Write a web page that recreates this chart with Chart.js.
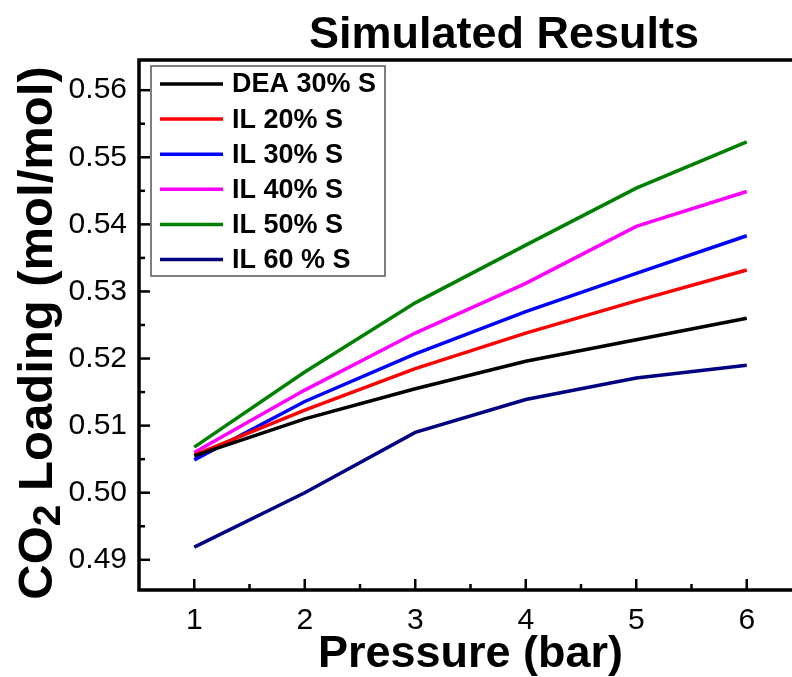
<!DOCTYPE html>
<html>
<head>
<meta charset="utf-8">
<title>Simulated Results</title>
<script src="https://cdn.jsdelivr.net/npm/chart.js@4/dist/chart.umd.min.js"></script>
<style>
  html, body { margin: 0; padding: 0; background: #fff; overflow: hidden; }
  canvas { display: block; }
</style>
</head>
<body>
<canvas id="chart" width="812" height="677" style="width:812px;height:677px"></canvas>
<script>
// Pressure points (bar)
const pressures = [1, 2, 3, 4, 5, 6];

// CO2 loading (mol/mol) for each solvent
const dea30 = [0.5055, 0.5110, 0.5155, 0.5196, 0.5228, 0.5260];
const il20  = [0.5056, 0.5123, 0.5185, 0.5238, 0.5286, 0.5332];
const il30  = [0.5049, 0.5136, 0.5207, 0.5270, 0.5327, 0.5383];
const il40  = [0.5060, 0.5153, 0.5238, 0.5312, 0.5397, 0.5449];
const il50  = [0.5068, 0.5180, 0.5283, 0.5369, 0.5454, 0.5523];
const il60  = [0.4919, 0.5000, 0.5090, 0.5139, 0.5171, 0.5190];

const seriesNames = ['DEA 30% S', 'IL 20% S', 'IL 30% S', 'IL 40% S', 'IL 50% S', 'IL 60 % S'];
const seriesValues = [dea30, il20, il30, il40, il50, il60];
const seriesColors = ['#000000', '#ff0000', '#0000ff', '#ff00ff', '#008000', '#000080'];

// Axis tick labels
const yTicks = [0.49, 0.50, 0.51, 0.52, 0.53, 0.54, 0.55, 0.56];
const xTicks = [1, 2, 3, 4, 5, 6];

const FONT = '"Liberation Sans", Arial, Helvetica, sans-serif';

const datasets = seriesNames.map((name, i) => ({
  label: name,
  data: pressures.map((p, j) => ({ x: p, y: seriesValues[i][j] })),
  borderColor: seriesColors[i],
  backgroundColor: seriesColors[i],
  borderWidth: 3.5,
  pointRadius: 0,
  pointHoverRadius: 0,
  tension: 0,
  fill: false
}));

// Frame, inward major/minor ticks, titles and legend box
const decorations = {
  id: 'decorations',
  afterDatasetsDraw(chart) {
    const { ctx, chartArea: a, scales: { x, y } } = chart;
    ctx.save();
    ctx.strokeStyle = '#000';
    ctx.lineCap = 'butt';

    const seg = (x1, y1, x2, y2) => { ctx.beginPath(); ctx.moveTo(x1, y1); ctx.lineTo(x2, y2); ctx.stroke(); };

    // major ticks pointing into the plot
    ctx.lineWidth = 2.5;
    yTicks.forEach(v => { const py = y.getPixelForValue(v); seg(a.left, py, a.left + 11, py); });
    xTicks.forEach(v => { const px = x.getPixelForValue(v); seg(px, a.bottom, px, a.bottom - 11); });
    // minor ticks halfway between majors
    for (let v = yTicks[0] - 0.005; v <= yTicks[yTicks.length - 1] + 0.0051; v += 0.01) {
      if (v > y.min && v < y.max) { const py = y.getPixelForValue(v); seg(a.left, py, a.left + 6, py); }
    }
    for (let v = xTicks[0] - 0.5; v <= xTicks[xTicks.length - 1] + 0.5; v += 1) {
      if (v > x.min && v < x.max) { const px = x.getPixelForValue(v); seg(px, a.bottom, px, a.bottom - 6); }
    }

    // plot frame
    ctx.lineWidth = 3.5;
    ctx.strokeRect(a.left, a.top, a.right - a.left, a.bottom - a.top);

    // legend box
    const lx = 151, ly = 66, lw = 234, lh = 210;
    ctx.fillStyle = '#fff';
    ctx.fillRect(lx, ly, lw, lh);
    ctx.lineWidth = 1.5;
    ctx.strokeStyle = '#555';
    ctx.strokeRect(lx, ly, lw, lh);
    ctx.font = 'bold 27px ' + FONT;
    ctx.textBaseline = 'middle';
    ctx.textAlign = 'left';
    chart.data.datasets.forEach((ds, i) => {
      const ry = 84 + i * 35.1;
      ctx.strokeStyle = ds.borderColor;
      ctx.lineWidth = 3.5;
      seg(160, ry, 223, ry);
      ctx.fillStyle = '#000';
      ctx.fillText(ds.label, 232, ry + 1);
    });

    // chart title
    ctx.fillStyle = '#000';
    ctx.font = 'bold 45px ' + FONT;
    ctx.textAlign = 'center';
    ctx.textBaseline = 'alphabetic';
    ctx.fillText('Simulated Results', 504, 48);

    // x axis title
    ctx.fillText('Pressure (bar)', (a.left + a.right) / 2, 667);

    // y axis title with subscript
    const big = 'bold 49px ' + FONT, small = 'bold 39px ' + FONT;
    ctx.font = big; const w1 = ctx.measureText('CO').width;
    ctx.font = small; const w2 = ctx.measureText('2').width;
    ctx.font = big; const w3 = ctx.measureText(' Loading (mol/mol)').width;
    const total = w1 + w2 + w3;
    ctx.translate(52, 333);
    ctx.rotate(-Math.PI / 2);
    ctx.textAlign = 'left';
    let cx = -total / 2;
    ctx.font = big; ctx.fillText('CO', cx, 0); cx += w1;
    ctx.font = small; ctx.fillText('2', cx, 8); cx += w2;
    ctx.font = big; ctx.fillText(' Loading (mol/mol)', cx, 0);
    ctx.restore();
  }
};

new Chart(document.getElementById('chart'), {
  type: 'line',
  data: { datasets },
  options: {
    responsive: false,
    animation: false,
    events: [],
    layout: { padding: { left: 0, top: 60, right: 10, bottom: 0 } },
    plugins: { legend: { display: false }, title: { display: false }, tooltip: { enabled: false } },
    scales: {
      x: {
        type: 'linear',
        min: 0.5,
        max: 6.5,
        grid: { display: false, drawTicks: false },
        border: { display: false },
        afterBuildTicks: s => { s.ticks = xTicks.map(v => ({ value: v })); },
        afterFit: s => { s.height = 87; },
        ticks: {
          padding: 13,
          color: '#000',
          font: { family: FONT, size: 30 },
          callback: v => String(v)
        }
      },
      y: {
        type: 'linear',
        min: 0.4855,
        max: 0.5645,
        grid: { display: false, drawTicks: false },
        border: { display: false },
        afterBuildTicks: s => { s.ticks = yTicks.map(v => ({ value: v })); },
        afterFit: s => { s.width = 139; },
        ticks: {
          padding: 12,
          color: '#000',
          font: { family: FONT, size: 30 },
          callback: v => v.toFixed(2)
        }
      }
    }
  },
  plugins: [decorations]
});
</script>
</body>
</html>
